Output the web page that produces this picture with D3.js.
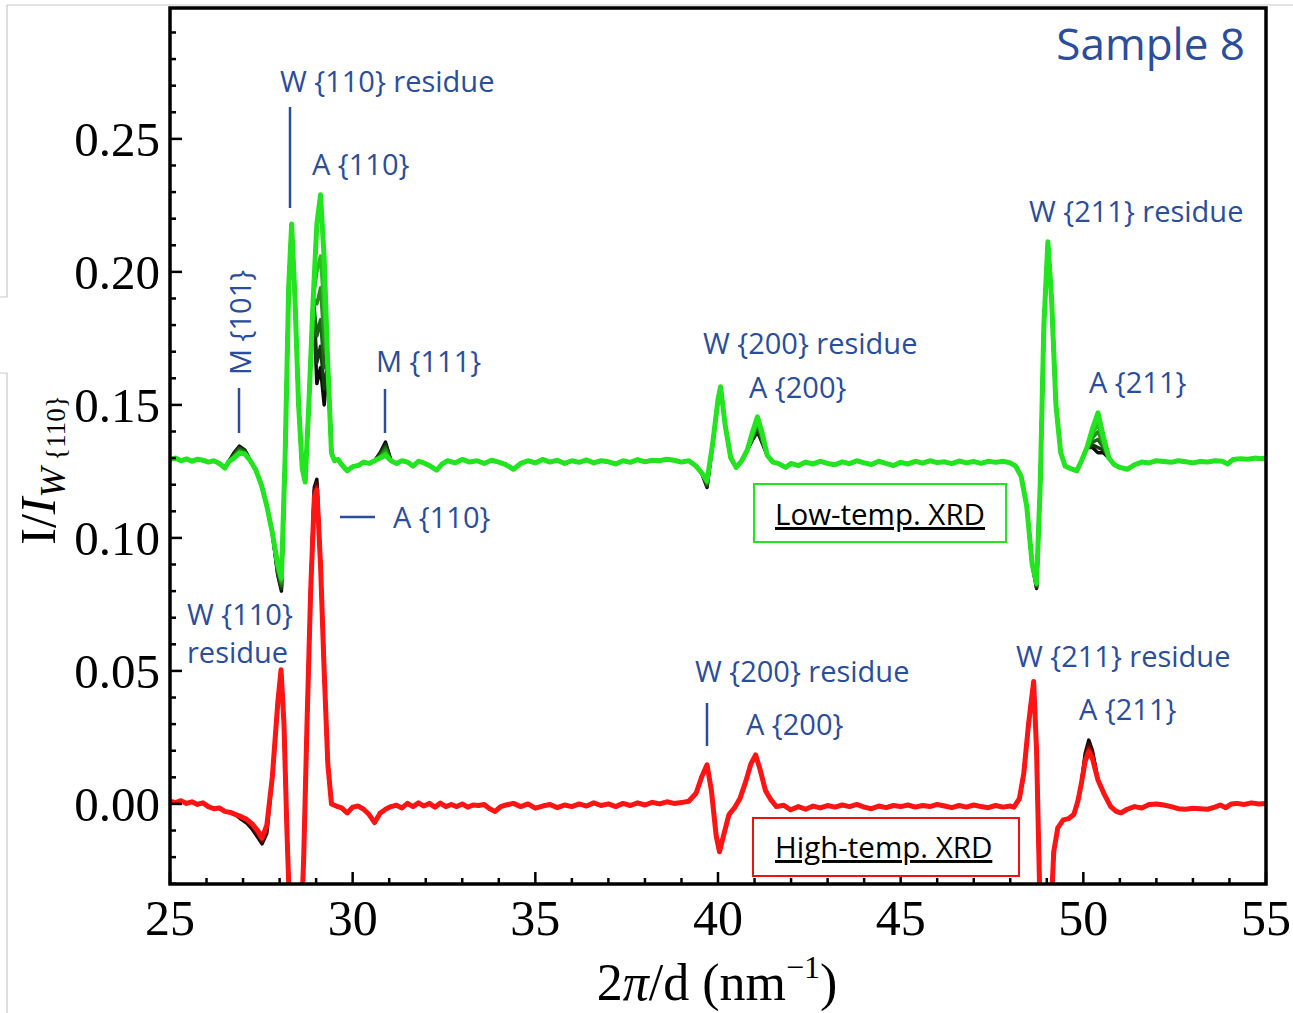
<!DOCTYPE html>
<html>
<head>
<meta charset="utf-8">
<script src="https://cdn.jsdelivr.net/npm/d3@7"></script>
<style>
  html, body { margin: 0; padding: 0; background: #ffffff; }
  svg { display: block; }
</style>
</head>
<body>
<svg id="chart" width="1293" height="1013"></svg>
<script>
// ---- axis ticks ----
const xMajorTicks = [25, 30, 35, 40, 45, 50, 55];
const yMajorTicks = [0.00, 0.05, 0.10, 0.15, 0.20, 0.25];
const yTickLabels = ["0.00", "0.05", "0.10", "0.15", "0.20", "0.25"];

// ---- low-temperature XRD: brightest trace, [2π/d, I/I_W{110}] ----
const lowTrace = [
  [25.0,0.1295],[25.15,0.1300],[25.3,0.1290],[25.45,0.1297],[25.6,0.1288],[25.75,0.1296],
  [25.9,0.1292],[26.05,0.1285],[26.2,0.1290],[26.35,0.1280],[26.5,0.1262],[26.6,0.1285],
  [26.75,0.1300],[26.9,0.1318],[27.05,0.1315],[27.2,0.1290],[27.35,0.1255],[27.5,0.1200],
  [27.65,0.1120],[27.8,0.1020],[27.95,0.0900],[28.05,0.0850],[28.15,0.1300],[28.25,0.1950],
  [28.33,0.2180],[28.42,0.1900],[28.52,0.1500],[28.62,0.1260],[28.70,0.1210],[28.80,0.1500],
  [28.92,0.1900],[29.02,0.2180],[29.12,0.2290],[29.22,0.2050],[29.32,0.1650],[29.42,0.1320],
  [29.5,0.1290],[29.6,0.1295],[29.7,0.1275],[29.85,0.1252],[30.0,0.1268],[30.15,0.1272],
  [30.3,0.1285],[30.45,0.1280],[30.6,0.1290],[30.75,0.1300],[30.9,0.1310],[31.05,0.1290],
  [31.2,0.1280],[31.35,0.1290],[31.5,0.1285],[31.65,0.1270],[31.8,0.1288],[31.95,0.1282],
  [32.1,0.1272],[32.3,0.1255],[32.45,0.1278],[32.6,0.1290],[32.8,0.1282],[33.0,0.1295],
  [33.2,0.1285],[33.4,0.1290],[33.6,0.1280],[33.8,0.1292],[34.0,0.1285],[34.2,0.1275],
  [34.4,0.1258],[34.6,0.1280],[34.8,0.1290],[35.0,0.1282],[35.2,0.1295],[35.4,0.1285],
  [35.6,0.1292],[35.8,0.1280],[36.0,0.1290],[36.2,0.1284],[36.4,0.1293],[36.6,0.1282],
  [36.8,0.1290],[37.0,0.1286],[37.2,0.1278],[37.4,0.1290],[37.6,0.1284],[37.8,0.1294],
  [38.0,0.1286],[38.2,0.1292],[38.4,0.1290],[38.6,0.1296],[38.8,0.1292],[39.0,0.1285],
  [39.2,0.1290],[39.4,0.1270],[39.55,0.1245],[39.7,0.1215],[39.85,0.1350],[40.0,0.1520],
  [40.07,0.1568],[40.2,0.1420],[40.35,0.1300],[40.5,0.1265],[40.65,0.1290],[40.8,0.1330],
  [40.95,0.1400],[41.08,0.1455],[41.2,0.1400],[41.35,0.1310],[41.5,0.1285],[41.65,0.1280],
  [41.85,0.1265],[42.0,0.1280],[42.2,0.1272],[42.4,0.1285],[42.6,0.1278],[42.8,0.1288],
  [43.0,0.1280],[43.2,0.1275],[43.4,0.1286],[43.6,0.1279],[43.8,0.1290],[44.0,0.1282],
  [44.2,0.1276],[44.4,0.1288],[44.6,0.1280],[44.8,0.1272],[45.0,0.1284],[45.2,0.1278],
  [45.4,0.1288],[45.6,0.1281],[45.8,0.1290],[46.0,0.1283],[46.2,0.1286],[46.4,0.1279],
  [46.6,0.1289],[46.8,0.1282],[47.0,0.1287],[47.2,0.1280],[47.4,0.1288],[47.6,0.1284],
  [47.8,0.1288],[48.0,0.1282],[48.15,0.1270],[48.3,0.1230],[48.45,0.1120],[48.6,0.0900],
  [48.72,0.0830],[48.82,0.1200],[48.92,0.1800],[49.03,0.2113],[49.13,0.1900],[49.25,0.1500],
  [49.38,0.1320],[49.5,0.1270],[49.66,0.1260],[49.82,0.1252],[49.95,0.1290],[50.1,0.1340],
  [50.25,0.1410],[50.4,0.1470],[50.55,0.1380],[50.7,0.1300],[50.85,0.1275],[51.0,0.1265],
  [51.2,0.1258],[51.4,0.1275],[51.6,0.1285],[51.8,0.1282],[52.0,0.1290],[52.2,0.1287],
  [52.4,0.1284],[52.6,0.1290],[52.8,0.1286],[53.0,0.1282],[53.2,0.1287],[53.4,0.1285],
  [53.6,0.1290],[53.8,0.1288],[53.95,0.1278],[54.1,0.1295],[54.3,0.1298],[54.5,0.1296],
  [54.7,0.1300],[54.85,0.1298],[55.0,0.1300]
];
// positions where the low-temperature scans differ from each other
const lowFeatureX = [26.75, 26.9, 27.05, 27.95, 28.05, 29.02, 29.12, 29.22, 30.75, 30.9,
                     39.7, 40.95, 41.08, 41.2, 48.72, 50.25, 50.4, 50.55];
// one row per scan, darkest first
const lowFeatureY = [
  [0.1320,0.1345,0.1330,0.0860,0.0800,0.1580,0.1640,0.1500,0.1320,0.1360,0.1190,0.1370,0.1400,0.1360,0.0810,0.1340,0.1320,0.1320],
  [0.1315,0.1340,0.1328,0.0865,0.0810,0.1660,0.1720,0.1560,0.1315,0.1350,0.1195,0.1375,0.1410,0.1365,0.0815,0.1350,0.1340,0.1330],
  [0.1310,0.1335,0.1325,0.0872,0.0820,0.1760,0.1820,0.1640,0.1310,0.1340,0.1200,0.1380,0.1420,0.1370,0.0820,0.1360,0.1370,0.1340],
  [0.1305,0.1328,0.1320,0.0880,0.0830,0.1880,0.1940,0.1740,0.1305,0.1330,0.1205,0.1385,0.1430,0.1380,0.0823,0.1375,0.1400,0.1350],
  [0.1302,0.1322,0.1318,0.0890,0.0840,0.2000,0.2060,0.1850,0.1302,0.1320,0.1210,0.1390,0.1440,0.1390,0.0826,0.1390,0.1430,0.1360],
  [0.1300,0.1318,0.1315,0.0900,0.0850,0.2180,0.2290,0.2050,0.1300,0.1310,0.1215,0.1400,0.1455,0.1400,0.0830,0.1410,0.1470,0.1380]
];
const lowColors = ["#0c0c0c", "#123a0e", "#1b6415", "#25911c", "#2cbd22", "#22e41f"];
const lowWidths = [3.5, 3.5, 3.5, 3.5, 3.5, 5];

// ---- high-temperature XRD: brightest trace ----
const highTrace = [
  [25.0,0.0010],[25.15,0.0005],[25.3,0.0012],[25.45,0.0002],[25.6,0.0008],[25.75,-0.0002],
  [25.9,0.0004],[26.05,-0.0010],[26.2,-0.0018],[26.35,-0.0015],[26.5,-0.0028],[26.65,-0.0032],
  [26.8,-0.0040],[26.95,-0.0048],[27.1,-0.0058],[27.25,-0.0075],[27.4,-0.0100],[27.52,-0.0128],
  [27.65,-0.0080],[27.8,0.0100],[27.95,0.0380],[28.04,0.0504],[28.12,0.0300],[28.2,-0.0100],
  [28.3,-0.0500],[28.45,-0.0700],[28.58,-0.0500],[28.66,-0.0200],[28.75,0.0300],[28.85,0.0800],
  [28.95,0.1150],[29.02,0.1180],[29.12,0.0900],[29.22,0.0500],[29.32,0.0150],[29.42,0.0000],
  [29.55,-0.0008],[29.7,-0.0015],[29.85,-0.0034],[30.0,-0.0012],[30.15,-0.0008],[30.3,-0.0020],
  [30.45,-0.0040],[30.6,-0.0070],[30.75,-0.0035],[30.9,-0.0020],[31.05,-0.0010],[31.2,-0.0005],
  [31.35,-0.0015],[31.5,0.0002],[31.65,-0.0010],[31.8,0.0004],[31.95,-0.0008],[32.1,0.0002],
  [32.25,-0.0012],[32.4,0.0003],[32.55,-0.0010],[32.7,-0.0002],[32.85,-0.0010],[33.0,0.0000],
  [33.15,-0.0012],[33.3,-0.0004],[33.45,-0.0006],[33.6,-0.0002],[33.75,-0.0018],[33.9,-0.0028],
  [34.05,-0.0010],[34.2,-0.0004],[34.4,0.0002],[34.6,-0.0010],[34.8,0.0000],[35.0,-0.0016],
  [35.2,-0.0008],[35.4,-0.0002],[35.6,-0.0014],[35.8,-0.0004],[36.0,-0.0010],[36.2,0.0000],
  [36.4,-0.0008],[36.6,0.0004],[36.8,-0.0006],[37.0,0.0000],[37.2,-0.0010],[37.4,0.0002],
  [37.6,-0.0006],[37.8,0.0004],[38.0,-0.0004],[38.2,0.0006],[38.4,0.0000],[38.6,0.0008],
  [38.8,0.0002],[39.0,0.0005],[39.2,0.0010],[39.4,0.0040],[39.55,0.0100],[39.7,0.0147],
  [39.82,0.0050],[39.95,-0.0120],[40.04,-0.0180],[40.15,-0.0120],[40.3,-0.0040],[40.45,-0.0015],
  [40.6,0.0020],[40.75,0.0080],[40.9,0.0150],[41.03,0.0184],[41.15,0.0130],[41.3,0.0050],
  [41.45,0.0015],[41.6,-0.0010],[41.8,-0.0005],[41.99,-0.0022],[42.2,-0.0010],[42.4,-0.0020],
  [42.6,-0.0008],[42.8,-0.0015],[43.0,-0.0006],[43.2,-0.0012],[43.4,-0.0004],[43.6,-0.0010],
  [43.8,-0.0002],[44.0,-0.0012],[44.2,-0.0018],[44.4,-0.0008],[44.6,-0.0014],[44.8,-0.0006],
  [45.0,-0.0010],[45.2,-0.0004],[45.4,-0.0012],[45.6,-0.0006],[45.8,-0.0010],[46.0,-0.0002],
  [46.2,-0.0008],[46.4,-0.0014],[46.6,-0.0006],[46.8,-0.0012],[47.0,-0.0004],[47.2,-0.0010],
  [47.4,-0.0014],[47.6,-0.0006],[47.8,-0.0012],[48.0,-0.0008],[48.1,-0.0012],[48.25,0.0020],
  [48.37,0.0115],[48.5,0.0300],[48.64,0.0460],[48.72,0.0200],[48.8,-0.0300],[48.9,-0.0700],
  [49.05,-0.0600],[49.15,-0.0300],[49.19,-0.0180],[49.3,-0.0090],[49.45,-0.0060],[49.6,-0.0055],
  [49.74,-0.0040],[49.85,0.0010],[49.95,0.0080],[50.05,0.0160],[50.15,0.0196],[50.25,0.0170],
  [50.4,0.0090],[50.56,0.0040],[50.75,-0.0010],[50.9,-0.0028],[51.03,-0.0034],[51.2,-0.0020],
  [51.4,-0.0010],[51.6,-0.0015],[51.8,-0.0002],[52.0,0.0000],[52.2,-0.0004],[52.4,-0.0010],
  [52.6,-0.0018],[52.8,-0.0020],[53.0,-0.0016],[53.2,-0.0018],[53.4,-0.0020],[53.6,-0.0012],
  [53.75,-0.0004],[53.9,-0.0014],[54.05,0.0000],[54.2,0.0002],[54.4,-0.0002],[54.6,0.0004],
  [54.8,0.0000],[55.0,0.0002]
];
const highFeatureX = [26.95, 27.1, 27.25, 27.4, 27.52, 27.65, 28.95, 29.02, 50.05, 50.15, 50.25];
const highFeatureY = [
  [-0.0058,-0.0072,-0.0095,-0.0125,-0.0150,-0.0110,0.1190,0.1220,0.0190,0.0240,0.0200],
  [-0.0055,-0.0068,-0.0088,-0.0117,-0.0143,-0.0100,0.1178,0.1207,0.0180,0.0225,0.0190],
  [-0.0051,-0.0062,-0.0080,-0.0108,-0.0135,-0.0090,0.1165,0.1193,0.0170,0.0210,0.0180],
  [-0.0048,-0.0058,-0.0075,-0.0100,-0.0128,-0.0080,0.1150,0.1180,0.0160,0.0196,0.0170]
];
const highColors = ["#140606", "#4a0a0a", "#9c0f0f", "#ff1414"];
const highWidths = [3.5, 3.5, 3.5, 5];

// ---- annotation labels ----
const peakLabels = [
  { text: "W {110} residue", x: 280, y: 92 },
  { text: "A {110}", x: 312, y: 175 },
  { text: "M {111}", x: 376, y: 372 },
  { text: "A {110}", x: 393, y: 528 },
  { text: "W {110}", x: 187, y: 625 },
  { text: "residue", x: 187, y: 663 },
  { text: "W {200} residue", x: 703, y: 354 },
  { text: "A {200}", x: 749, y: 398 },
  { text: "W {211} residue", x: 1029, y: 222 },
  { text: "A {211}", x: 1089, y: 393 },
  { text: "W {200} residue", x: 695, y: 682 },
  { text: "A {200}", x: 746, y: 735 },
  { text: "W {211} residue", x: 1016, y: 667 },
  { text: "A {211}", x: 1079, y: 720 }
];
const markerLines = [
  { x1: 290, y1: 107, x2: 290, y2: 208 },
  { x1: 239, y1: 388, x2: 239, y2: 433 },
  { x1: 385, y1: 389, x2: 385, y2: 433 },
  { x1: 340, y1: 517, x2: 375, y2: 517 },
  { x1: 707, y1: 703, x2: 707, y2: 746 }
];

const svg = d3.select("#chart");
const margin = { left: 170, top: 8, right: 1266, bottom: 884 };

const x = d3.scaleLinear().domain([25, 55]).range([margin.left, margin.right]);
const y = d3.scaleLinear().domain([-0.0301, 0.2992]).range([margin.bottom, margin.top]);

const blue = "#2a4d9c";

// light page edges around the figure
const edge = svg.append("g").attr("stroke", "#c9c9c9").attr("stroke-width", 1.2).attr("fill", "none");
edge.append("path").attr("d", "M0,297 H7 V5 H1293");
edge.append("path").attr("d", "M0,373 H7 V1013");

// clip for traces
svg.append("defs").append("clipPath").attr("id", "plotClip")
  .append("rect")
  .attr("x", margin.left).attr("y", margin.top)
  .attr("width", margin.right - margin.left).attr("height", margin.bottom - margin.top);

const line = d3.line().x(d => x(d[0])).y(d => y(d[1])).curve(d3.curveLinear);

function buildScan(trace, featX, row) {
  return trace.map(p => {
    const k = featX.indexOf(p[0]);
    return k >= 0 ? [p[0], row[k]] : p;
  });
}

const traces = svg.append("g").attr("clip-path", "url(#plotClip)");

// high-temperature scans (darkest first, brightest on top)
highFeatureY.forEach((row, i) => {
  traces.append("path")
    .datum(buildScan(highTrace, highFeatureX, row))
    .attr("d", line)
    .attr("fill", "none")
    .attr("stroke", highColors[i])
    .attr("stroke-width", highWidths[i])
    .attr("stroke-linejoin", "round");
});

// low-temperature scans
lowFeatureY.forEach((row, i) => {
  traces.append("path")
    .datum(buildScan(lowTrace, lowFeatureX, row))
    .attr("d", line)
    .attr("fill", "none")
    .attr("stroke", lowColors[i])
    .attr("stroke-width", lowWidths[i])
    .attr("stroke-linejoin", "round");
});

// ---- axes: inward ticks on bottom and left ----
const axisG = svg.append("g").attr("stroke", "#000");
const xMinor = d3.range(25, 55.001, 1);
xMinor.forEach(v => {
  const major = xMajorTicks.includes(v);
  axisG.append("line")
    .attr("x1", x(v)).attr("x2", x(v))
    .attr("y1", margin.bottom).attr("y2", margin.bottom - (major ? 12 : 6))
    .attr("stroke-width", 2.5);
});
const yMinor = d3.range(-3, 30, 1).map(k => k / 100);
yMinor.forEach(v => {
  const major = yMajorTicks.some(t => Math.abs(t - v) < 1e-9);
  axisG.append("line")
    .attr("x1", margin.left).attr("x2", margin.left + (major ? 12 : 6))
    .attr("y1", y(v)).attr("y2", y(v))
    .attr("stroke-width", 2.5);
});

// frame
svg.append("rect")
  .attr("x", margin.left).attr("y", margin.top)
  .attr("width", margin.right - margin.left).attr("height", margin.bottom - margin.top)
  .attr("fill", "none").attr("stroke", "#000").attr("stroke-width", 3.5);

// tick labels
const serif = "'Liberation Serif', 'Times New Roman', serif";
svg.append("g").selectAll("text").data(xMajorTicks).join("text")
  .attr("x", d => x(d)).attr("y", 935)
  .attr("text-anchor", "middle")
  .attr("font-family", serif).attr("font-size", 50)
  .text(d => d);
svg.append("g").selectAll("text").data(yMajorTicks).join("text")
  .attr("x", 160).attr("y", d => y(d))
  .attr("dy", "0.34em")
  .attr("text-anchor", "end")
  .attr("font-family", serif).attr("font-size", 49)
  .text((d, i) => yTickLabels[i]);

// axis titles
const xt = svg.append("text")
  .attr("x", 717).attr("y", 1000)
  .attr("text-anchor", "middle")
  .attr("font-family", serif).attr("font-size", 52);
xt.append("tspan").text("2");
xt.append("tspan").attr("font-style", "italic").text("π");
xt.append("tspan").text("/d (nm");
xt.append("tspan").attr("font-size", 32).attr("dy", -22).text("−1");
xt.append("tspan").attr("dy", 22).text(")");

const yt = svg.append("text")
  .attr("transform", "translate(55,470) rotate(-90)")
  .attr("text-anchor", "middle")
  .attr("font-family", serif).attr("font-size", 50);
yt.append("tspan").text("I/");
yt.append("tspan").attr("font-style", "italic").text("I");
yt.append("tspan").attr("font-style", "italic").attr("font-size", 36).attr("dy", 10).text("W");
yt.append("tspan").attr("font-size", 27).text(" {110}");

// ---- annotations ----
const sans = "'Open Sans', 'Noto Sans', sans-serif";
svg.append("g").selectAll("text").data(peakLabels).join("text")
  .attr("x", d => d.x).attr("y", d => d.y)
  .attr("font-family", sans).attr("font-size", 29)
  .attr("fill", blue)
  .text(d => d.text);

svg.append("text")
  .attr("transform", "translate(251,375) rotate(-90)")
  .attr("font-family", sans).attr("font-size", 29)
  .attr("fill", blue)
  .text("M {101}");

svg.append("g").selectAll("line").data(markerLines).join("line")
  .attr("x1", d => d.x1).attr("y1", d => d.y1)
  .attr("x2", d => d.x2).attr("y2", d => d.y2)
  .attr("stroke", blue).attr("stroke-width", 2.5);

svg.append("text")
  .attr("x", 1245).attr("y", 60)
  .attr("text-anchor", "end")
  .attr("font-family", sans).attr("font-size", 44)
  .attr("fill", blue)
  .text("Sample 8");

// legend boxes
const boxes = [
  { text: "Low-temp. XRD", x: 754, y: 484, w: 252, h: 58, stroke: "#22e41f", tx: 775, ty: 525 },
  { text: "High-temp. XRD", x: 753, y: 818, w: 266, h: 58, stroke: "#ee1111", tx: 775, ty: 858 }
];
boxes.forEach(b => {
  svg.append("rect")
    .attr("x", b.x).attr("y", b.y).attr("width", b.w).attr("height", b.h)
    .attr("fill", "#fff").attr("stroke", b.stroke).attr("stroke-width", 2);
  svg.append("text")
    .attr("x", b.tx).attr("y", b.ty)
    .attr("font-family", sans).attr("font-size", 29.5)
    .attr("fill", "#000")
    .attr("text-decoration", "underline")
    .text(b.text);
});
</script>
</body>
</html>
